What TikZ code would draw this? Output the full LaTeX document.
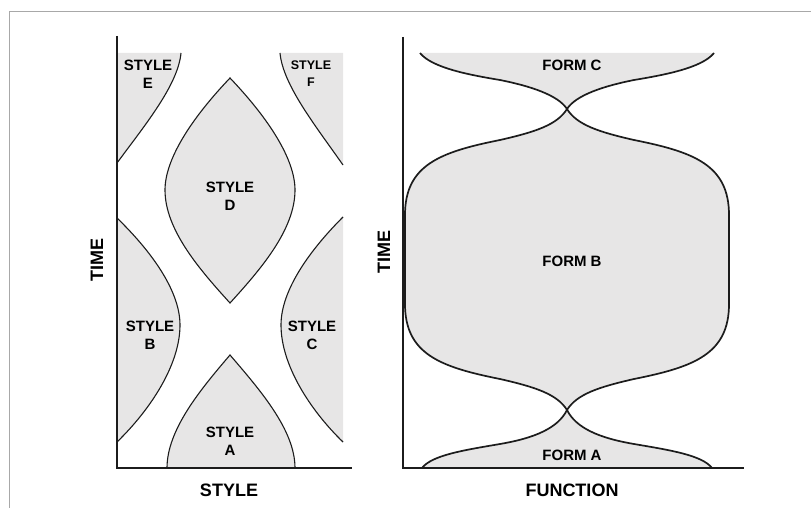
\documentclass[tikz,border=0pt]{standalone}
\usepackage{fontspec}
\setmainfont{Liberation Sans}
\usepackage{xcolor}
\definecolor{shgray}{HTML}{E7E6E6}
\definecolor{lndark}{HTML}{1C1C1C}
\definecolor{frgray}{HTML}{A8A8A8}
\usetikzlibrary{positioning}

\begin{document}
\begin{tikzpicture}[x=1pt,y=-1pt]
\tikzset{
 zone/.style={fill=shgray},
 bd/.style={draw=lndark,line width=1.1pt},
 bdf/.style={draw=lndark,line width=1.7pt},
 ax/.style={draw=lndark,line width=2pt},
 lb/.style={font=\fontsize{15}{18}\selectfont\bfseries,align=center,inner sep=0pt},
 lbs/.style={font=\fontsize{12.5}{17}\selectfont\bfseries,align=center,inner sep=0pt},
 axl/.style={font=\fontsize{18}{20}\selectfont\bfseries,inner sep=0pt}
}
\useasboundingbox (0,0) rectangle (811,508);
\draw[frgray,line width=1pt] (9,508) -- (9,12) -- (811,12);

% left panel: style
\fill[zone] (117,53) -- (181,53) .. controls (178,85) and (145,125) .. (117,163) -- cycle;
\draw[bd] (181,53) .. controls (178,85) and (145,125) .. (117,163);
\fill[zone] (343,53) -- (280,53) .. controls (283,85) and (315,125) .. (343,165) -- cycle;
\draw[bd] (280,53) .. controls (283,85) and (315,125) .. (343,165);
\filldraw[zone,bd] (230,78) .. controls (190,120) and (165,160) .. (165,190)
  .. controls (165,230) and (200,270) .. (230,303)
  .. controls (260,270) and (295,230) .. (295,190)
  .. controls (295,160) and (270,120) .. (230,78) -- cycle;
\fill[zone] (117,218) .. controls (150,250) and (180,290) .. (180,325)
  .. controls (180,365) and (150,410) .. (117,442) -- cycle;
\draw[bd] (117,218) .. controls (150,250) and (180,290) .. (180,325)
  .. controls (180,365) and (150,410) .. (117,442);
\fill[zone] (343,217) .. controls (310,250) and (281,290) .. (281,325)
  .. controls (281,365) and (310,410) .. (343,442) -- cycle;
\draw[bd] (343,217) .. controls (310,250) and (281,290) .. (281,325)
  .. controls (281,365) and (310,410) .. (343,442);
\fill[zone] (167,468) .. controls (167,430) and (200,390) .. (230,355)
  .. controls (260,390) and (295,430) .. (295,468) -- cycle;
\draw[bd] (167,468) .. controls (167,430) and (200,390) .. (230,355)
  .. controls (260,390) and (295,430) .. (295,468);

\node[lb] (se) at (148,74) {STYLE\\E};
\node[lbs] (sf) at (311,74) {STYLE\\F};
\node[lb] (sd) at (230,196) {STYLE\\D};
\node[lb] (sb) at (150,335) {STYLE\\B};
\node[lb] (sc) at (312,335) {STYLE\\C};
\node[lb] (sa) at (230,441) {STYLE\\A};

\coordinate (ltop) at (117,36);
\coordinate (lorg) at (117,468);
\coordinate (lend) at (352,468);
\draw[ax] (ltop) -- (lorg) -- (lend);
\node[axl] (lx) at (229,490) {STYLE};
\node[axl,rotate=90] (ly) at (97,260) {TIME};

% right panel: function
\fill[zone] (420,53) .. controls (432,68) and (470,75) .. (500,80)
  .. controls (530,86) and (558,95) .. (567,109)
  .. controls (576,95) and (604,86) .. (634,80)
  .. controls (664,75) and (702,68) .. (714,53) -- cycle;
\draw[bdf] (420,53) .. controls (432,68) and (470,75) .. (500,80)
  .. controls (530,86) and (558,95) .. (567,109)
  .. controls (576,95) and (604,86) .. (634,80)
  .. controls (664,75) and (702,68) .. (714,53);
\filldraw[zone,bdf] (567,109) .. controls (557,125) and (535,132) .. (500,140)
  .. controls (440,152) and (405,165) .. (405,215) -- (405,304)
  .. controls (405,354) and (440,367) .. (500,379)
  .. controls (535,387) and (557,394) .. (567,410)
  .. controls (577,394) and (599,387) .. (634,379)
  .. controls (694,367) and (729,354) .. (729,304) -- (729,215)
  .. controls (729,165) and (694,152) .. (634,140)
  .. controls (599,132) and (577,125) .. (567,109) -- cycle;
\fill[zone] (422,468) .. controls (432,455) and (465,450) .. (500,444)
  .. controls (535,438) and (558,428) .. (567,410)
  .. controls (576,428) and (599,438) .. (634,444)
  .. controls (669,450) and (702,455) .. (712,468) -- cycle;
\draw[bdf] (422,468) .. controls (432,455) and (465,450) .. (500,444)
  .. controls (535,438) and (558,428) .. (567,410)
  .. controls (576,428) and (599,438) .. (634,444)
  .. controls (669,450) and (702,455) .. (712,468);

\node[lb] (fc) at (572,65) {FORM C};
\node[lb] (fb) at (572,261) {FORM B};
\node[lb] (fa) at (572,455) {FORM A};

\coordinate (rtop) at (403,37);
\coordinate (rorg) at (403,468);
\coordinate (rend) at (744,468);
\draw[ax] (rtop) -- (rorg) -- (rend);
\node[axl] (rx) at (572,490) {FUNCTION};
\node[axl,rotate=90] (ry) at (384,252) {TIME};
\end{tikzpicture}
\end{document}
